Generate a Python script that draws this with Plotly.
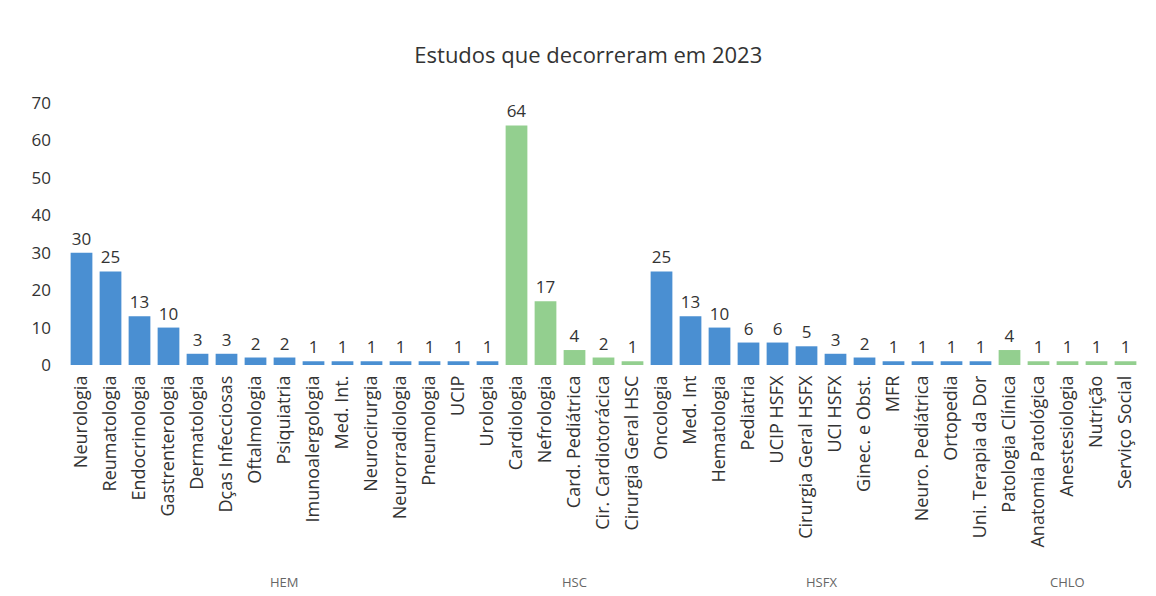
import plotly.graph_objects as go

groups = ["HEM"] * 15 + ["HSC"] * 5 + ["HSFX"] * 12 + ["CHLO"] * 5
group_names = ["HEM", "HSC", "HSFX", "CHLO"]
categories = [
    "Neurologia", "Reumatologia", "Endocrinologia", "Gastrenterologia", "Dermatologia",
    "Dças Infecciosas", "Oftalmologia", "Psiquiatria", "Imunoalergologia", "Med. Int.",
    "Neurocirurgia", "Neurorradiologia", "Pneumologia", "UCIP", "Urologia",
    "Cardiologia", "Nefrologia", "Card. Pediátrica", "Cir. Cardiotorácica", "Cirurgia Geral HSC",
    "Oncologia", "Med. Int", "Hematologia", "Pediatria", "UCIP HSFX", "Cirurgia Geral HSFX",
    "UCI HSFX", "Ginec. e Obst.", "MFR", "Neuro. Pediátrica", "Ortopedia", "Uni. Terapia da Dor",
    "Patologia Clínica", "Anatomia Patológica", "Anestesiologia", "Nutrição", "Serviço Social",
]
values = [
    30, 25, 13, 10, 3, 3, 2, 2, 1, 1, 1, 1, 1, 1, 1,
    64, 17, 4, 2, 1,
    25, 13, 10, 6, 6, 5, 3, 2, 1, 1, 1, 1,
    4, 1, 1, 1, 1,
]
y_ticks = [0, 10, 20, 30, 40, 50, 60, 70]

group_colors = {"HEM": "#4a8fd2", "HSC": "#93cf8f", "HSFX": "#4a8fd2", "CHLO": "#93cf8f"}
colors = [group_colors[g] for g in groups]

FONT = "Open Sans"

fig = go.Figure(
    go.Bar(
        x=categories,
        y=values,
        marker=dict(color=colors, line=dict(width=0)),
        text=[str(v) for v in values],
        textposition="outside",
        cliponaxis=False,
        textfont=dict(family=FONT, size=17, color="#333333"),
        showlegend=False,
    )
)

# group labels centred under each group's categories
for g in group_names:
    idx = [i for i, gg in enumerate(groups) if gg == g]
    centre = (idx[0] + idx[-1]) / 2
    fig.add_annotation(
        x=centre, xref="x",
        y=-0.828, yref="paper",
        text=g, showarrow=False,
        xanchor="center", yanchor="middle",
        font=dict(family=FONT, size=13, color="#666666"),
    )

fig.update_layout(
    width=1156,
    height=596,
    paper_bgcolor="white",
    plot_bgcolor="white",
    bargap=0.25,
    margin=dict(l=59, r=24, t=95, b=239),
    title=dict(
        text="Estudos que decorreram em 2023",
        x=0.502, xanchor="center", y=0.921, yanchor="middle",
        font=dict(family=FONT, size=22, color="#333333"),
    ),
    font=dict(family=FONT, color="#444444"),
)
fig.update_xaxes(
    type="category",
    tickangle=-90,
    tickfont=dict(family=FONT, size=18, color="#333333"),
    ticklabelstandoff=6,
    showgrid=False,
    showline=False,
    ticks="",
    automargin=False,
)
fig.update_yaxes(
    range=[0, 70],
    tickvals=y_ticks,
    showgrid=False,
    zeroline=False,
    showline=False,
    ticks="",
    ticklabelstandoff=15,
    automargin=False,
    tickfont=dict(family=FONT, size=17, color="#333333"),
)

fig.write_html("out.html")
